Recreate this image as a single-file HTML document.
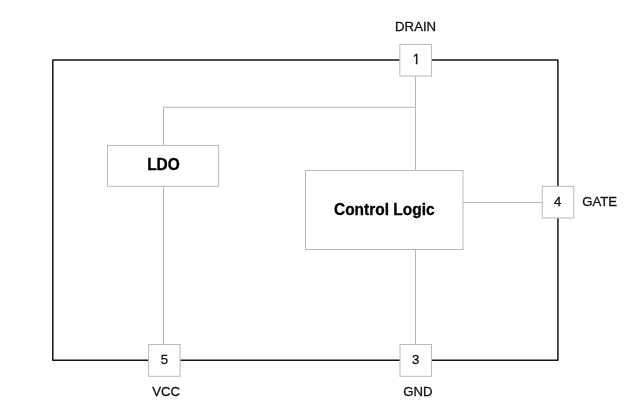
<!DOCTYPE html>
<html>
<head>
<meta charset="utf-8">
<title>Block Diagram</title>
<style>
html,body{margin:0;padding:0;background:#fff;}
body{width:638px;height:416px;overflow:hidden;position:relative;font-family:"Liberation Sans",sans-serif;}
svg{position:absolute;left:0;top:0;display:block;will-change:transform;}
text{font-family:"Liberation Sans",sans-serif;fill:#1a1a1a;}
.lbl{font-size:13.2px;fill:#111;stroke:#111;stroke-width:0.3px;stroke-linejoin:round;}
.b{font-size:15.5px;font-weight:bold;fill:#000;stroke:#000;stroke-width:0.3px;stroke-linejoin:round;}
</style>
</head>
<body>
<svg width="638" height="416" viewBox="0 0 638 416">
  <rect x="0" y="0" width="638" height="416" fill="#ffffff"/>
  <defs><clipPath id="nofoot"><path d="M-7 -14 H7 V-1.77 H1.05 V2 H-0.6 V-1.77 H-7 Z"/></clipPath></defs>
  <!-- outer frame -->
  <path d="M52.8 60 H557.9 V360.35 H52.8 Z" fill="none" stroke="#141414" stroke-width="1.5" stroke-linejoin="round"/>
  <!-- thin wires -->
  <g stroke="#b6b6b6" stroke-width="1" fill="none">
    <path d="M163.5 145.5 V107.25 H415.5"/>
    <path d="M415.5 76 V170.5"/>
    <path d="M415.5 249.5 V344.5"/>
    <path d="M163.5 186.3 V344.5"/>
    <path d="M463 202.5 H542.5"/>
  </g>
  <!-- blocks -->
  <g stroke="#bababa" stroke-width="1" fill="#fff">
    <rect x="107.5" y="145.4" width="111.1" height="40.9"/>
    <rect x="305.5" y="170.5" width="157.5" height="79"/>
    <rect x="399.85" y="44.45" width="31.7" height="31.6"/>
    <rect x="542.3" y="186.3" width="31.5" height="31.7"/>
    <rect x="400" y="344.5" width="31.5" height="31.8"/>
    <rect x="148.6" y="344.5" width="31.5" height="31.8"/>
  </g>
  <!-- text -->
  <text class="b" transform="translate(163.5 170.4) scale(1 1.015)" text-anchor="middle">LDO</text>
  <text class="b" transform="translate(384.3 214.8) scale(1 1.015)" text-anchor="middle">Control Logic</text>
  <text class="lbl" transform="translate(416.4 63.85) scale(1 1.05)" text-anchor="middle" clip-path="url(#nofoot)">1</text>
  <text class="lbl" transform="translate(557.6 205.9) scale(1 1.004)" text-anchor="middle">4</text>
  <text class="lbl" transform="translate(415.7 364.4) scale(1 1.004)" text-anchor="middle">3</text>
  <text class="lbl" transform="translate(164.3 364.4) scale(1 1.004)" text-anchor="middle">5</text>
  <text class="lbl" transform="translate(415.6 31.1) scale(1 1.004)" text-anchor="middle">DRAIN</text>
  <text class="lbl" transform="translate(599.65 205.65) scale(1 1.004)" text-anchor="middle">GATE</text>
  <text class="lbl" transform="translate(417.8 395.7) scale(1 1.004)" text-anchor="middle">GND</text>
  <text class="lbl" transform="translate(166.1 395.8) scale(1 1.004)" text-anchor="middle">VCC</text>
</svg>
</body>
</html>
